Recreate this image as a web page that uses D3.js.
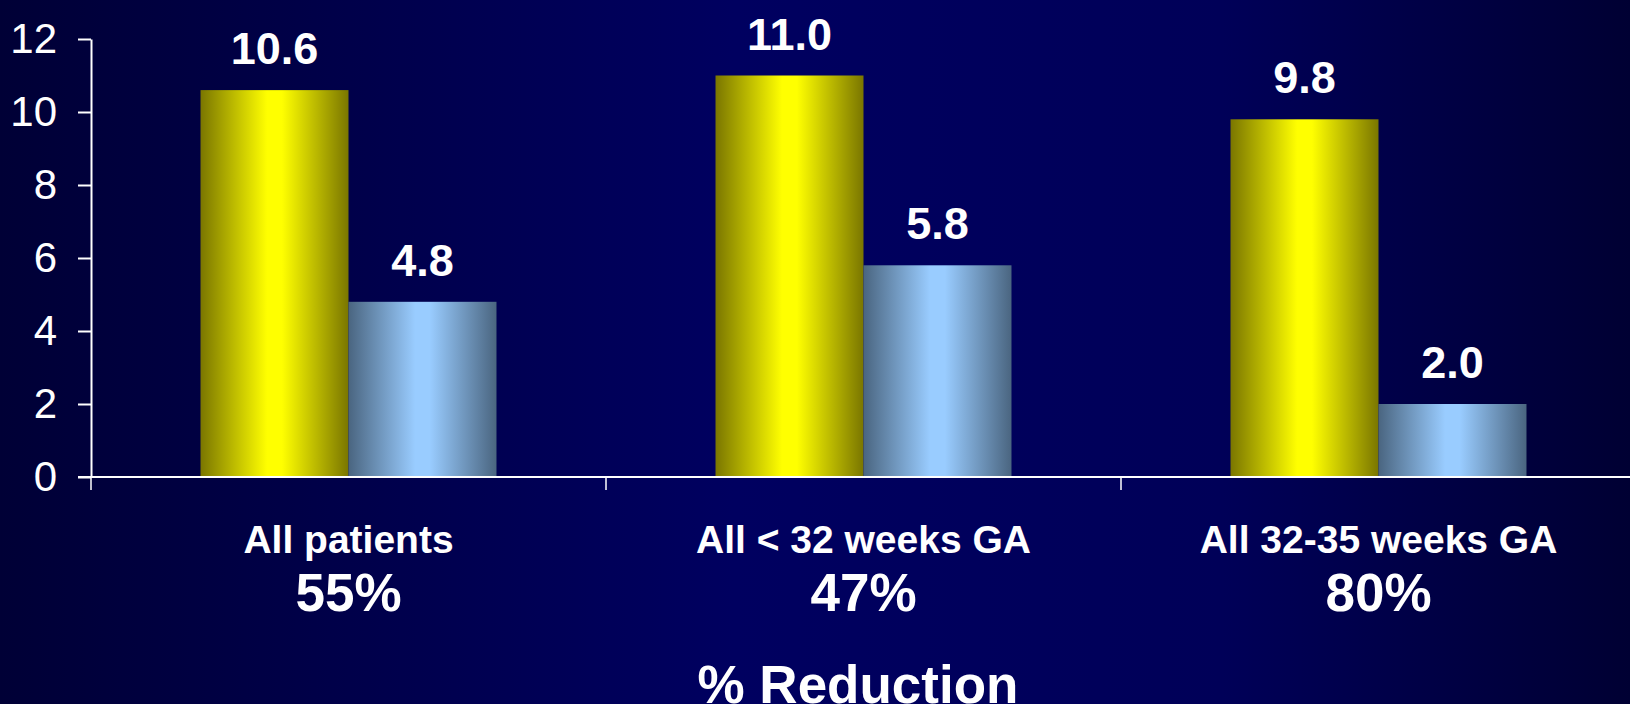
<!DOCTYPE html>
<html>
<head>
<meta charset="utf-8">
<script src="https://cdn.jsdelivr.net/npm/d3@7"></script>
<style>
  html, body { margin: 0; padding: 0; background: #000040; }
  svg { display: block; font-family: "Liberation Sans", Arial, sans-serif; }
</style>
</head>
<body>
<div id="chart"></div>
<script>
// data
var categories = ['All patients', 'All < 32 weeks GA', 'All 32-35 weeks GA'];
var reductions = ['55%', '47%', '80%'];
var series     = ['placebo', 'treated'];
var placebo    = [10.6, 11.0, 9.8];
var treated    = [4.8, 5.8, 2.0];
var yTicks     = [0, 2, 4, 6, 8, 10, 12];
var footer     = '% Reduction';

var width = 1630, height = 704;
// note: "top" is window.top, so the plot box gets its own names
var plotLeft = 91, plotRight = 1636, plotTop = 39, plotBottom = 477;

var svg = d3.select('#chart')
  .append('svg')
    .attr('width', width)
    .attr('height', height);

var defs = svg.append('defs');

// slide background, dark at the edges
var bg = defs.append('linearGradient').attr('id', 'bg')
  .attr('x1', '0').attr('x2', '1').attr('y1', '0').attr('y2', '0');
bg.append('stop').attr('offset', '0').attr('stop-color', '#000036');
bg.append('stop').attr('offset', '0.45').attr('stop-color', '#000060');
bg.append('stop').attr('offset', '0.75').attr('stop-color', '#000058');
bg.append('stop').attr('offset', '1').attr('stop-color', '#000033');

function barGradient(id, dark, light) {
  var g = defs.append('linearGradient').attr('id', id)
    .attr('x1', '0').attr('x2', '1').attr('y1', '0').attr('y2', '0');
  g.append('stop').attr('offset', '0').attr('stop-color', dark);
  g.append('stop').attr('offset', '0.45').attr('stop-color', light);
  g.append('stop').attr('offset', '0.55').attr('stop-color', light);
  g.append('stop').attr('offset', '1').attr('stop-color', dark);
}
barGradient('gold', '#7a7600', '#ffff00');
barGradient('sky', '#4a6580', '#99ccff');

svg.append('rect')
  .attr('width', width)
  .attr('height', height)
  .attr('fill', 'url(#bg)');

var x = d3.scaleBand()
  .domain(categories)
  .range([plotLeft, plotRight]);

var x1 = d3.scaleBand()
  .domain(series)
  .range([0, x.bandwidth()])
  .paddingOuter(0.74);

var y = d3.scaleLinear()
  .domain([0, 12])
  .range([plotBottom, plotTop]);

var fills = { placebo: 'url(#gold)', treated: 'url(#sky)' };

var rows = categories.map(function(c, i) {
  return [
    { cat: c, key: 'placebo', value: placebo[i] },
    { cat: c, key: 'treated', value: treated[i] }
  ];
});

var groups = svg.selectAll('.group')
  .data(rows)
  .enter()
  .append('g')
    .attr('class', 'group')
    .attr('transform', function(d) { return 'translate(' + x(d[0].cat) + ',0)'; });

groups.selectAll('rect')
  .data(function(d) { return d; })
  .enter()
  .append('rect')
    .attr('x', function(d) { return x1(d.key); })
    .attr('width', x1.bandwidth())
    .attr('y', function(d) { return y(d.value); })
    .attr('height', function(d) { return y(0) - y(d.value); })
    .attr('fill', function(d) { return fills[d.key]; });

groups.selectAll('.val')
  .data(function(d) { return d; })
  .enter()
  .append('text')
    .attr('class', 'val')
    .attr('x', function(d) { return x1(d.key) + x1.bandwidth() / 2; })
    .attr('y', function(d) { return y(d.value) - 26; })
    .attr('text-anchor', 'middle')
    .attr('fill', '#fff')
    .attr('font-weight', 'bold')
    .attr('font-size', 45)
    .text(function(d) { return d.value.toFixed(1); });

// y axis
var yAxis = svg.append('g')
  .attr('transform', 'translate(' + plotLeft + ',0)')
  .call(d3.axisLeft(y).tickValues(yTicks).tickSize(13).tickPadding(21).tickSizeOuter(0));
yAxis.select('.domain').attr('stroke', '#fff').attr('stroke-width', 2);
yAxis.selectAll('.tick line').attr('stroke', '#fff').attr('stroke-width', 2);
yAxis.selectAll('.tick text')
  .attr('fill', '#fff')
  .attr('font-size', 42)
  .attr('font-family', '"Liberation Sans", Arial, sans-serif');

// x axis: line across, ticks at band edges
var xAxis = svg.append('g');
xAxis.append('line')
  .attr('x1', plotLeft - 13).attr('x2', width)
  .attr('y1', y(0)).attr('y2', y(0))
  .attr('stroke', '#fff').attr('stroke-width', 2);
xAxis.selectAll('.xtick')
  .data(categories)
  .enter()
  .append('line')
    .attr('class', 'xtick')
    .attr('x1', function(d) { return x(d); })
    .attr('x2', function(d) { return x(d); })
    .attr('y1', y(0)).attr('y2', y(0) + 13)
    .attr('stroke', '#fff').attr('stroke-width', 1.5);

svg.selectAll('.cat')
  .data(categories)
  .enter()
  .append('text')
    .attr('class', 'cat')
    .attr('x', function(d) { return x(d) + x.bandwidth() / 2; })
    .attr('y', 553)
    .attr('text-anchor', 'middle')
    .attr('fill', '#fff')
    .attr('font-weight', 'bold')
    .attr('font-size', 39)
    .text(function(d) { return d; });

svg.selectAll('.pct')
  .data(reductions)
  .enter()
  .append('text')
    .attr('class', 'pct')
    .attr('x', function(d, i) { return x(categories[i]) + x.bandwidth() / 2; })
    .attr('y', 611)
    .attr('text-anchor', 'middle')
    .attr('fill', '#fff')
    .attr('font-weight', 'bold')
    .attr('font-size', 53)
    .text(function(d) { return d; });

svg.append('text')
  .attr('x', 858)
  .attr('y', 703)
  .attr('text-anchor', 'middle')
  .attr('fill', '#fff')
  .attr('font-weight', 'bold')
  .attr('font-size', 53)
  .text(footer);
</script>
</body>
</html>
